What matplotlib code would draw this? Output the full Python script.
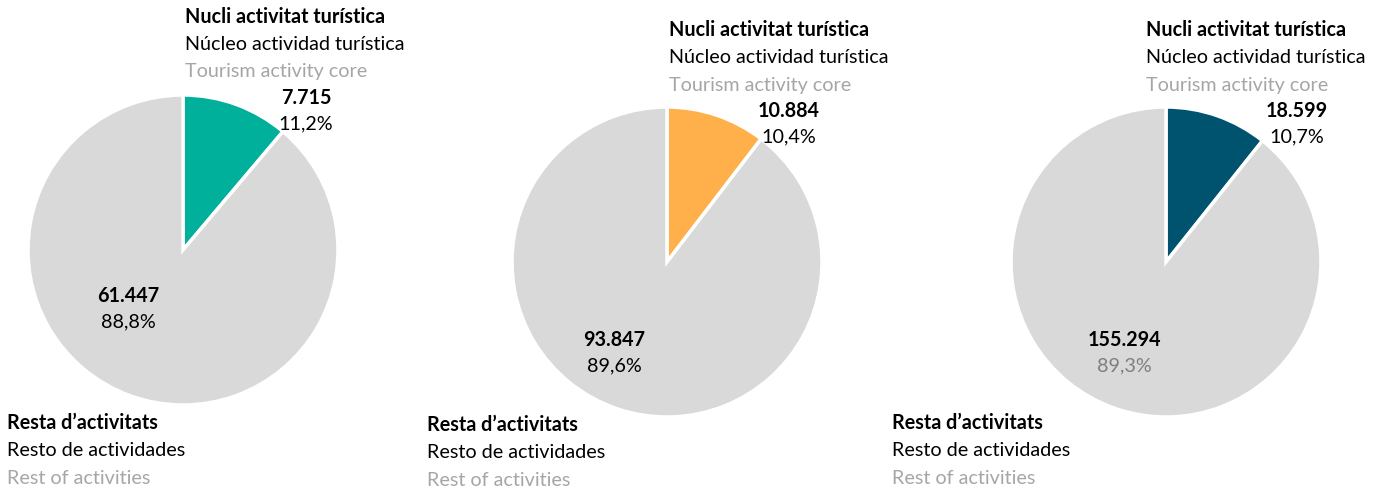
import matplotlib
matplotlib.use("Agg")
import matplotlib.pyplot as plt

# ---- data ----
core_values = [7715, 10884, 18599]
rest_values = [61447, 93847, 155294]
core_colors = ["#00B09B", "#FFB04A", "#00536F"]
rest_color = "#D9D9D9"
core_labels = ["Nucli activitat turística", "Núcleo actividad turística", "Tourism activity core"]
rest_labels = ["Resta d\u2019activitats", "Resto de actividades", "Rest of activities"]

# ---- layout (pixel coordinates, y from top) ----
W, H = 1381, 492
centers = [(183, 250), (667, 262), (1166, 262)]
radius = 155
core_title_pos = [(185, 17), (669, 30), (1146, 30)]
core_val_pos = [(306, 98), (789, 111), (1297, 111)]
rest_val_pos = [(128, 296), (614, 340), (1124, 340)]
rest_title_pos = [(7, 423), (427, 425), (892, 423)]
rest_pct_colors = ["#000000", "#000000", "#7F7F7F"]
line_gap = 27.5
pct_gap = 26

plt.rcParams['font.family'] = ['Lato', 'DejaVu Sans']
FS = 14.2

fig = plt.figure(figsize=(W / 100, H / 100), dpi=100)
ax = fig.add_axes([0, 0, 1, 1])
ax.set_xlim(0, W)
ax.set_ylim(0, H)
ax.set_aspect('equal')
ax.axis('off')


def fmt_int(v):
    return f"{v:,}".replace(",", ".")


def fmt_pct(p):
    return f"{p:.1f}".replace(".", ",") + "%"


for i in range(3):
    cx, cy = centers[i]
    vals = [core_values[i], rest_values[i]]
    ax.pie(vals, colors=[core_colors[i], rest_color], startangle=90, counterclock=False,
           center=(cx, H - cy), radius=radius, frame=True,
           wedgeprops=dict(edgecolor="white", linewidth=2.5))
    total = sum(vals)
    # core titles
    tx, ty = core_title_pos[i]
    styles = [("bold", "#000000"), ("normal", "#000000"), ("normal", "#A6A6A6")]
    for j, (lab, (w, c)) in enumerate(zip(core_labels, styles)):
        ax.text(tx, H - (ty + j * line_gap), lab, fontsize=FS, fontweight=w, color=c,
                ha="left", va="center")
    rx, ry = rest_title_pos[i]
    for j, (lab, (w, c)) in enumerate(zip(rest_labels, styles)):
        ax.text(rx, H - (ry + j * line_gap), lab, fontsize=FS, fontweight=w, color=c,
                ha="left", va="center")
    # values
    vx, vy = core_val_pos[i]
    ax.text(vx, H - vy, fmt_int(core_values[i]), fontsize=FS, fontweight="bold",
            ha="center", va="center")
    ax.text(vx, H - (vy + pct_gap), fmt_pct(100 * core_values[i] / total), fontsize=FS,
            ha="center", va="center")
    vx, vy = rest_val_pos[i]
    ax.text(vx, H - vy, fmt_int(rest_values[i]), fontsize=FS, fontweight="bold",
            ha="center", va="center")
    ax.text(vx, H - (vy + pct_gap), fmt_pct(100 * rest_values[i] / total), fontsize=FS,
            color=rest_pct_colors[i], ha="center", va="center")

ax.set_xlim(0, W)
ax.set_ylim(0, H)
ax.axis('off')
fig.savefig("out.png", dpi=100, facecolor="white")
